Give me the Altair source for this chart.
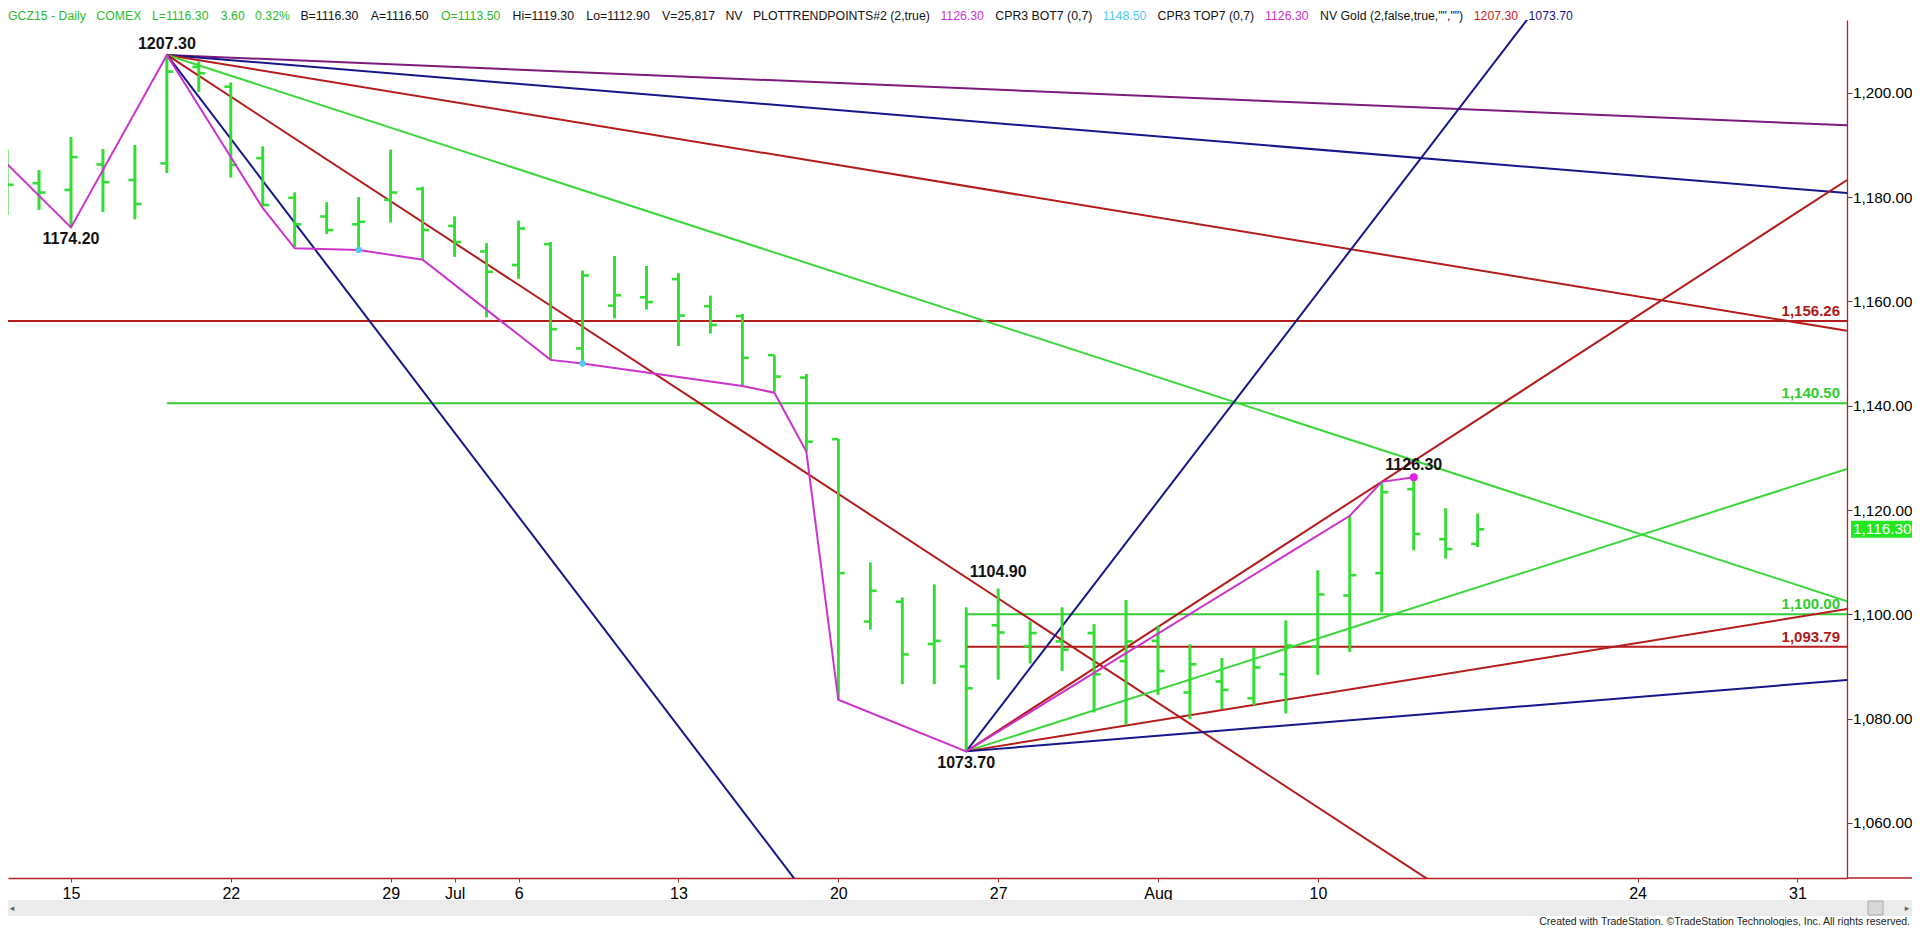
import altair as alt
import pandas as pd

# ---------------- data (trading-day index: 0 = Jun 15 2015) ----------------
day_index = list(range(-2, 45))
open_px = [1187.8, 1182.7, 1181.4, 1186.3, 1183.3, 1186.5, 1205.0, 1201.2, 1187.5, 1179.9,
           1176.3, 1174.8, 1179.5, 1181.6, 1174.5, 1169.6, 1167.0, 1171.0, 1151.0, 1159.2,
           1160.8, 1164.3, 1159.1, 1157.2, 1149.7, 1145.4, 1133.6, 1098.6, 1102.4, 1094.3,
           1090.0, 1097.9, 1093.9, 1094.8, 1096.4, 1091.0, 1094.9, 1085.0, 1087.1, 1083.9,
           1088.5, 1093.8, 1103.6, 1107.9, 1124.0, 1114.4, 1113.5]
high_px = [1189.1, 1185.2, 1191.5, 1189.2, 1190.0, 1207.3, 1206.0, 1202.0, 1189.7, 1180.9,
           1179.0, 1180.0, 1189.1, 1182.0, 1176.3, 1171.2, 1175.5, 1171.4, 1165.9, 1168.7,
           1166.8, 1165.4, 1161.1, 1157.6, 1149.7, 1146.1, 1133.6, 1109.9, 1103.2, 1105.7,
           1101.3, 1104.9, 1098.6, 1101.3, 1098.1, 1102.7, 1097.8, 1094.2, 1091.6, 1093.5,
           1098.8, 1108.4, 1118.9, 1125.4, 1126.3, 1120.3, 1119.3]
low_px = [1176.6, 1177.6, 1174.2, 1177.2, 1175.8, 1184.7, 1200.2, 1183.8, 1178.3, 1170.5,
          1173.0, 1169.9, 1175.2, 1168.0, 1168.6, 1157.0, 1164.4, 1148.8, 1148.1, 1156.8,
          1158.5, 1151.5, 1153.9, 1143.9, 1142.7, 1131.2, 1083.6, 1097.1, 1086.6, 1086.6,
          1073.7, 1087.5, 1090.6, 1089.2, 1081.2, 1078.8, 1084.6, 1079.9, 1081.8, 1082.6,
          1081.0, 1088.4, 1092.8, 1100.4, 1112.3, 1110.7, 1112.9]
close_px = [1182.4, 1180.9, 1187.7, 1182.9, 1178.7, 1204.1, 1203.8, 1186.2, 1178.5, 1174.8,
            1173.7, 1175.3, 1180.9, 1173.7, 1171.4, 1165.7, 1174.0, 1154.7, 1165.0, 1161.2,
            1159.9, 1157.3, 1155.5, 1149.2, 1145.6, 1133.1, 1107.9, 1104.5, 1092.3, 1094.9,
            1085.8, 1096.5, 1096.4, 1093.2, 1088.5, 1094.8, 1089.1, 1090.4, 1085.5, 1089.8,
            1094.0, 1103.8, 1107.5, 1123.4, 1115.4, 1112.5, 1116.3]

tick_index = [0, 5, 10, 12, 14, 19, 24, 29, 34, 39, 49, 54]
tick_label = ["15", "22", "29", "Jul", "6", "13", "20", "27", "Aug", "10", "24", "31"]
price_ticks = [1060, 1080, 1100, 1120, 1140, 1160, 1180, 1200]

# NV Gold swing line
swing_index = [-3, 0, 3, 6, 7, 9, 11, 15, 16, 21, 22, 23, 24, 28, 40, 41, 42]
swing_price = [1192.5, 1174.2, 1207.3, 1177.9, 1170.2, 1169.9, 1168.0, 1148.8, 1148.1,
               1143.8, 1142.5, 1131.2, 1083.6, 1073.7, 1118.9, 1125.4, 1126.3]

# trend lines (start -> end)
trend_x1 = [3, 3, 3, 3, 3, 3, 28, 28, 28, 28, 28]
trend_y1 = [1207.3, 1207.3, 1207.3, 1207.3, 1207.3, 1207.3, 1073.7, 1073.7, 1073.7, 1073.7, 1073.7]
trend_x2 = [55.55, 55.55, 55.55, 55.55, 55.55, 30, 50, 55.55, 55.55, 55.55, 55.55]
trend_y2 = [1193.8, 1180.8, 1154.4, 1102.5, 996.6, 989.9, 1249.7, 1183.3, 1127.9, 1101.0, 1087.4]
trend_kind = ["purple", "navy", "red", "green", "red", "navy", "navy", "red", "green", "red", "navy"]

# horizontal levels
level_price = [1156.26, 1140.50, 1100.00, 1093.79]
level_start = [-2.5, 3, 28, 28]
level_kind = ["red", "green", "green", "red"]
level_label = ["1,156.26", "1,140.50", "1,100.00", "1,093.79"]

# price notes
note_index = [3, 0, 29, 28, 42]
note_price = [1207.3, 1174.2, 1104.9, 1073.7, 1126.3]
note_text = ["1207.30", "1174.20", "1104.90", "1073.70", "1126.30"]
note_dy = [-6, 17, -12, 17, -7]

cpr_dot_index = [9, 16]
cpr_dot_price = [1169.9, 1148.1]
last_close = 1116.30

header_tokens = ["GCZ15 - Daily", "COMEX", "L=1116.30", "3.60", "0.32%", "B=1116.30", "A=1116.50",
                 "O=1113.50", "Hi=1119.30", "Lo=1112.90", "V=25,817", "NV",
                 "PLOTTRENDPOINTS#2 (2,true)", "1126.30", "CPR3 BOT7 (0,7)", "1148.50",
                 "CPR3 TOP7 (0,7)", "1126.30", 'NV Gold (2,false,true,"","")', "1207.30", "1073.70"]
header_kind = ["hgreen", "hgreen", "hgreen", "hgreen", "hgreen", "black", "black",
               "hgreen", "black", "black", "black", "black",
               "black", "magenta", "black", "cyan",
               "black", "magenta", "black", "hred", "navy"]

# ---------------- styling ----------------
FONT = "Liberation Sans"
COLORS = {"purple": "#7d1a7d", "navy": "#16168a", "red": "#b41c1c", "green": "#3ad83a",
          "magenta": "#cc33cc", "cyan": "#55c8ee", "black": "#111111",
          "hgreen": "#2dbb2d", "hred": "#cc2222"}
BAR_GREEN = "#33dd33"
AXIS_RED = "#b22222"
X_MIN, X_MAX = -1.97, 55.55
Y_MIN, Y_MAX = 1049.41, 1214.0
PLOT_W, PLOT_H = 1839, 858

xs = alt.Scale(domain=[X_MIN, X_MAX], nice=False, zero=False)
ys = alt.Scale(domain=[Y_MIN, Y_MAX], nice=False, zero=False)

label_expr = " : ".join(f"datum.value == {i} ? '{l}'" for i, l in zip(tick_index, tick_label)) + " : ''"
x_axis = alt.Axis(values=tick_index, labelExpr=label_expr, title=None, grid=False,
                  labelFontSize=16, labelFont=FONT, labelColor="#000000", tickColor=AXIS_RED,
                  tickSize=4, domainColor=AXIS_RED, domainWidth=1.3, labelPadding=3,
                  labelFlush=False, labelOverlap=False)
y_axis = alt.Axis(orient="right", values=price_ticks, format=",.2f", title=None, grid=False,
                  labelFontSize=15.3, labelFont=FONT, labelColor="#000000", tickColor="#444444",
                  tickSize=5, domainColor=AXIS_RED, domainWidth=1.3, labelPadding=0.5,
                  labelFlush=False)


def XQ(field):
    return alt.X(field, type="quantitative", scale=xs, axis=x_axis)


def YQ(field):
    return alt.Y(field, type="quantitative", scale=ys, axis=y_axis)


ohlc = pd.DataFrame({"i": day_index, "o": open_px, "h": high_px, "l": low_px, "c": close_px})
trend = pd.DataFrame({"x1": trend_x1, "y1": trend_y1, "x2": trend_x2, "y2": trend_y2,
                      "col": [COLORS[k] for k in trend_kind]})
levels = pd.DataFrame({"s": level_start, "e": [X_MAX] * len(level_price), "p": level_price,
                       "col": [COLORS[k] if k != "green" else "#33cc33" for k in level_kind],
                       "lab": level_label})
levels["lcol"] = ["#b01818" if k == "red" else "#2ecc2e" for k in level_kind]
swing = pd.DataFrame({"si": swing_index, "sp": swing_price})
dots = pd.DataFrame({"i": cpr_dot_index, "p": cpr_dot_price})

layers = []

# OHLC bars (carry the axes)
layers.append(alt.Chart(ohlc).mark_rule(color=BAR_GREEN, strokeWidth=2.6, clip=True).encode(
    x=XQ("i"), y=YQ("l"), y2="h:Q"))

# horizontal levels
layers.append(alt.Chart(levels).mark_rule(strokeWidth=2, clip=True).encode(
    x=XQ("s"), x2="e:Q", y=YQ("p"), color=alt.Color("col:N", scale=None)))

# trend lines
layers.append(alt.Chart(trend).mark_rule(strokeWidth=2, clip=True).encode(
    x=XQ("x1"), x2="x2:Q", y=YQ("y1"), y2="y2:Q", color=alt.Color("col:N", scale=None)))

# OHLC bars again on top + open / close ticks
layers.append(alt.Chart(ohlc).mark_rule(color=BAR_GREEN, strokeWidth=2.6, clip=True).encode(
    x=XQ("i"), y=YQ("l"), y2="h:Q"))
layers.append(alt.Chart(ohlc).mark_rule(color=BAR_GREEN, strokeWidth=2.6, xOffset=-6.5, clip=True).encode(
    x=XQ("i"), x2="i:Q", y=YQ("o")))
layers.append(alt.Chart(ohlc).mark_rule(color=BAR_GREEN, strokeWidth=2.6, x2Offset=6.5, clip=True).encode(
    x=XQ("i"), x2="i:Q", y=YQ("c")))

# swing line
layers.append(alt.Chart(swing).mark_line(color=COLORS["magenta"], strokeWidth=2, clip=True).encode(
    x=XQ("si"), y=YQ("sp"), order="si:Q"))

# dots
layers.append(alt.Chart(dots).mark_circle(size=40, color=COLORS["cyan"], opacity=1).encode(
    x=XQ("i"), y=YQ("p")))
peak = pd.DataFrame({"i": [note_index[-1]], "p": [note_price[-1]]})
layers.append(alt.Chart(peak).mark_circle(size=64, color="#dd22dd", opacity=1).encode(
    x=XQ("i"), y=YQ("p")))

# price notes
for i, p, t, d in zip(note_index, note_price, note_text, note_dy):
    nd = pd.DataFrame({"i": [i], "p": [p], "t": [t]})
    layers.append(alt.Chart(nd).mark_text(font=FONT, fontSize=16, fontWeight="bold", color="#111111",
                                          align="center", baseline="alphabetic", dy=d).encode(
        x=XQ("i"), y=YQ("p"), text="t:N"))

# level labels
layers.append(alt.Chart(levels).mark_text(font=FONT, fontSize=15, fontWeight="bold", align="right",
                                          baseline="alphabetic", dy=-5).encode(
    x=alt.value(1832), y=YQ("p"), text="lab:N", color=alt.Color("lcol:N", scale=None)))

# last price box
lp = pd.DataFrame({"p": [last_close], "t": [f"{last_close:,.2f}"]})
layers.append(alt.Chart(lp).mark_rect(color="#22e822", yOffset=-8.5, y2Offset=8.5).encode(
    x=alt.value(PLOT_W + 4), x2=alt.value(PLOT_W + 65), y=YQ("p"), y2="p:Q"))
layers.append(alt.Chart(lp).mark_text(font=FONT, fontSize=15.3, color="white", align="left",
                                      baseline="middle").encode(
    x=alt.value(PLOT_W + 6), y=YQ("p"), text="t:N"))

# header line (tokens laid out with Arial widths)
AW = {" ": 278, '"': 355, "#": 556, "%": 889, "(": 333, ")": 333, ",": 278, "-": 333, ".": 278,
      "=": 584, "A": 667, "B": 667, "C": 722, "D": 722, "E": 667, "G": 778, "H": 722, "I": 278,
      "L": 556, "M": 833, "N": 722, "O": 778, "P": 667, "R": 722, "S": 667, "T": 611, "V": 667,
      "X": 667, "Z": 611, "a": 556, "d": 556, "e": 556, "f": 278, "i": 222, "l": 222, "o": 556,
      "r": 333, "s": 500, "t": 278, "u": 556, "y": 500}
HFS = 12.3
widths = [sum(AW.get(ch, 556) for ch in s) / 1000 * HFS for s in header_tokens]
gap = (1565 - sum(widths)) / (len(header_tokens) - 1)
pos, cur = [], 0.0
for w in widths:
    pos.append(cur)
    cur += w + gap
for tok, kind, px in zip(header_tokens, header_kind, pos):
    hd = pd.DataFrame({"t": [tok]})
    layers.append(alt.Chart(hd).mark_text(font=FONT, fontSize=HFS, align="left", baseline="alphabetic",
                                          color=COLORS[kind]).encode(
        x=alt.value(round(px, 1)), y=alt.value(0), text="t:N"))

# bottom decorations: axis extension, scrollbar, footer
deco = pd.DataFrame({"k": [1]})
layers.append(alt.Chart(deco).mark_rule(color=AXIS_RED, strokeWidth=1.3).encode(
    x=alt.value(PLOT_W), x2=alt.value(1904), y=alt.value(PLOT_H)))
layers.append(alt.Chart(deco).mark_rect(color="#ebebeb").encode(
    x=alt.value(0), x2=alt.value(1904), y=alt.value(880), y2=alt.value(896)))
layers.append(alt.Chart(deco).mark_rect(color="#d8d8d8", stroke="#a8a8a8", strokeWidth=1).encode(
    x=alt.value(1860), x2=alt.value(1875), y=alt.value(881), y2=alt.value(895)))
arrows = pd.DataFrame({"t": ["\u25c2", "\u25b8"]})
layers.append(alt.Chart(arrows.iloc[[0]]).mark_text(font="DejaVu Sans", fontSize=9, color="#666666",
                                                    align="center", baseline="middle").encode(
    x=alt.value(4), y=alt.value(888), text="t:N"))
layers.append(alt.Chart(arrows.iloc[[1]]).mark_text(font="DejaVu Sans", fontSize=9, color="#666666",
                                                    align="center", baseline="middle").encode(
    x=alt.value(1899), y=alt.value(888), text="t:N"))
foot = pd.DataFrame({"t": ["Created with TradeStation. \u00a9TradeStation Technologies, Inc. All rights reserved."]})
layers.append(alt.Chart(foot).mark_text(font=FONT, fontSize=10.5, color="#222222", align="right",
                                        baseline="alphabetic").encode(
    x=alt.value(1902), y=alt.value(905), text="t:N"))

chart = alt.layer(*layers).properties(
    width=PLOT_W, height=PLOT_H,
    padding={"left": 0, "top": 12, "right": 65, "bottom": 48},
    autosize=alt.AutoSizeParams(type="none"),
    background="white",
).configure_view(stroke=None)

chart.save("out.html", embed_options={"renderer": "svg", "actions": False})
